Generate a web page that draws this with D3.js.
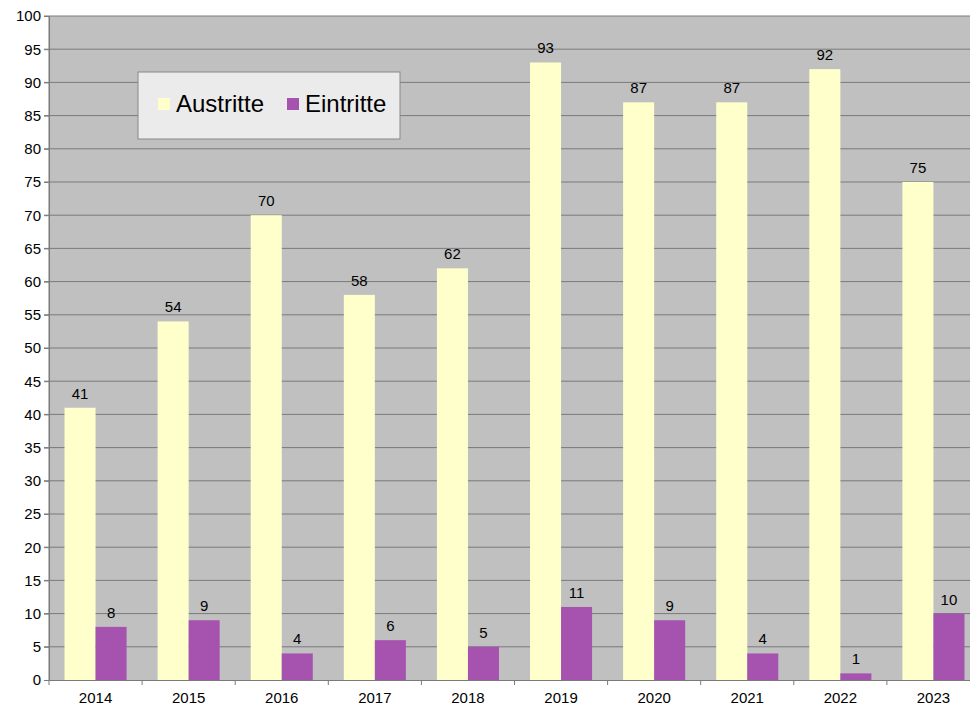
<!DOCTYPE html>
<html>
<head>
<meta charset="utf-8">
<style>
  body { margin: 0; background: #fff; }
  text { font-family: "Liberation Sans", Arial, sans-serif; }
</style>
</head>
<body>
<svg id="chart" width="970" height="707"></svg>
<script src="https://cdn.jsdelivr.net/npm/d3@7"></script>
<script>
// data
var years = ["2014", "2015", "2016", "2017", "2018", "2019", "2020", "2021", "2022", "2023"];
var austritte = [41, 54, 70, 58, 62, 93, 87, 87, 92, 75];
var eintritte = [8, 9, 4, 6, 5, 11, 9, 4, 1, 10];
var seriesNames = ["Austritte", "Eintritte"];
var seriesColors = ["#FFFFCC", "#A653B0"];
var yTicks = d3.range(0, 101, 5);

(function() {
var svg = d3.select("#chart");
var plotL = 49, plotT = 16, plotB = 680, plotR = 49 + 931;
var fs = 15;

var x = d3.scaleBand().domain(years).range([plotL, plotR]).paddingInner(0).paddingOuter(0);
var xs = d3.scaleBand().domain(seriesNames).range([0, x.bandwidth()]).paddingInner(0).paddingOuter(0.5);
var y = d3.scaleLinear().domain([0, 100]).range([plotB, plotT]);

// plot background
svg.append("rect")
  .attr("x", plotL).attr("y", plotT)
  .attr("width", plotR - plotL).attr("height", plotB - plotT)
  .attr("fill", "#C0C0C0");

// gridlines
svg.append("g")
  .selectAll("line")
  .data(yTicks.filter(function(d) { return d > 0; }))
  .join("line")
  .attr("x1", plotL - 5).attr("x2", plotR)
  .attr("y1", function(d) { return y(d); })
  .attr("y2", function(d) { return y(d); })
  .attr("stroke", "#7a7a7a").attr("stroke-width", 1);

// y axis
var yAxis = svg.append("g")
  .attr("transform", "translate(" + plotL + ",0)")
  .call(d3.axisLeft(y).tickValues(yTicks).tickSize(5).tickPadding(3));
yAxis.select(".domain").attr("stroke", "#7a7a7a");
yAxis.selectAll(".tick line").attr("stroke", "#7a7a7a");
yAxis.selectAll("text").attr("font-size", fs).attr("fill", "#000")
  .attr("font-family", "Liberation Sans, Arial, sans-serif");

// bars
var data = years.map(function(yr, i) {
  return { year: yr, values: [austritte[i], eintritte[i]] };
});
var groups = svg.append("g").selectAll("g")
  .data(data).join("g")
  .attr("transform", function(d) { return "translate(" + x(d.year) + ",0)"; });

groups.selectAll("rect")
  .data(function(d) { return d.values.map(function(v, j) { return { name: seriesNames[j], v: v, j: j }; }); })
  .join("rect")
  .attr("x", function(d) { return xs(d.name); })
  .attr("width", xs.bandwidth())
  .attr("y", function(d) { return y(d.v); })
  .attr("height", function(d) { return plotB - y(d.v); })
  .attr("fill", function(d) { return seriesColors[d.j]; });

groups.selectAll("text.lbl")
  .data(function(d) { return d.values.map(function(v, j) { return { name: seriesNames[j], v: v }; }); })
  .join("text")
  .attr("class", "lbl")
  .attr("x", function(d) { return xs(d.name) + xs.bandwidth() / 2; })
  .attr("y", function(d) { return y(d.v) - 9; })
  .attr("text-anchor", "middle")
  .attr("font-size", fs)
  .attr("fill", "#000")
  .text(function(d) { return d.v; });

// x axis
var xAxis = svg.append("g")
  .attr("transform", "translate(0," + plotB + ")")
  .call(d3.axisBottom(x).tickSize(0).tickPadding(12));
xAxis.select(".domain").attr("stroke", "#7a7a7a");
xAxis.selectAll("text").attr("font-size", fs).attr("fill", "#000")
  .attr("font-family", "Liberation Sans, Arial, sans-serif");
svg.append("g").selectAll("line")
  .data(years)
  .join("line")
  .attr("x1", function(d) { return x(d); })
  .attr("x2", function(d) { return x(d); })
  .attr("y1", plotB).attr("y2", plotB + 5)
  .attr("stroke", "#7a7a7a");

// left axis line on top
svg.append("line")
  .attr("x1", plotL).attr("x2", plotL).attr("y1", plotT).attr("y2", plotB)
  .attr("stroke", "#7a7a7a");

// legend
var legend = svg.append("g");
legend.append("rect")
  .attr("x", 138).attr("y", 72).attr("width", 262).attr("height", 67)
  .attr("fill", "#EBEBEB").attr("stroke", "#888");
var legX = [158, 287];
seriesNames.forEach(function(n, i) {
  legend.append("rect")
    .attr("x", legX[i]).attr("y", 98).attr("width", 12).attr("height", 12)
    .attr("fill", seriesColors[i]);
  legend.append("text")
    .attr("x", legX[i] + 18).attr("y", 112)
    .attr("font-size", 24).attr("fill", "#000")
    .text(n);
});
})();
</script>
</body>
</html>
